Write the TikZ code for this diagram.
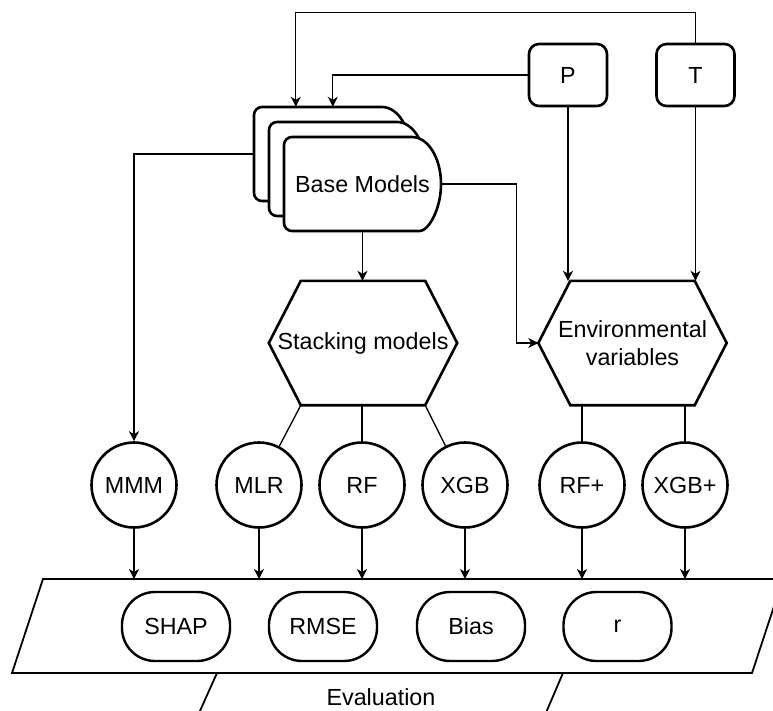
\documentclass[tikz,border=0pt]{standalone}
\usepackage{fontspec}
\setmainfont{Liberation Sans}
\usetikzlibrary{arrows.meta}

\begin{document}
\begin{tikzpicture}[
        x=1pt, y=-1pt,
        font=\fontsize{23.3}{28}\selectfont,
        var/.style={rectangle, rounded corners=10pt, draw, line width=2.6pt, minimum width=78pt, minimum height=62pt},
        hexnode/.style={minimum width=188pt, minimum height=124pt, inner sep=0pt, align=center},
        hexline/.style={line width=2.6pt, line join=miter},
        baseshape/.style={line width=2.6pt, fill=white},
        anchorbox/.style={minimum width=157pt, minimum height=94pt, inner sep=0pt},
        model/.style={circle, draw, line width=2.6pt, minimum size=85pt, inner sep=0pt},
        metric/.style={rectangle, rounded corners=33pt, draw, line width=2.4pt, minimum width=108pt, minimum height=69pt},
        evalline/.style={line width=1.8pt, line join=miter},
        link/.style={line width=1.3pt},
        arrow/.style={link, -{Stealth[length=10pt, width=10pt, inset=3pt]}}
    ]

    \useasboundingbox (0,0) rectangle (773,711);
    \clip (0,0) rectangle (773,711);

    % stacked base model shapes
    \foreach \d in {0,15,30}
        \filldraw[baseshape, shift={(\d,\d)}] (382,107) [rounded corners=8pt] -- (254,107) -- (254,201) -- (382,201)
            [sharp corners] .. controls (398,201) and (411,180) .. (411,154)
            .. controls (411,128) and (398,107) .. (382,107) -- cycle;
    \node[anchorbox] (bback) at (332.5,154) {};
    \node[anchorbox] (base) at (362.5,184) {Base Models};

    \node[var] (P) at (568,75) {P};
    \node[var] (T) at (695.5,75) {T};

    \node[hexnode] (stack) at (363,343) {Stacking models};
    \node[hexnode] (env) at (632.5,343) {Environmental\\variables};
    \foreach \h in {stack, env}
        \draw[hexline] ([xshift=32pt]\h.north west) -- ([xshift=-32pt]\h.north east) -- (\h.east)
            -- ([xshift=-32pt]\h.south east) -- ([xshift=32pt]\h.south west) -- (\h.west) -- cycle;

    \node[model] (mmm) at (134,485) {MMM};
    \node[model] (mlr) at (259,485) {MLR};
    \node[model] (rf) at (362,485) {RF};
    \node[model] (xgb) at (465,485) {XGB};
    \node[model] (rfp) at (582,485) {RF+};
    \node[model] (xgbp) at (685,485) {XGB+};

    % evaluation band
    \draw[evalline] (43,579) -- (783,579) -- (752,673) -- (12,673) -- cycle;
    \draw[evalline] (217,673) -- (195,722);
    \draw[evalline] (563,673) -- (542,722);
    \coordinate (evtop) at (0,579);
    \node[metric] (shap) at (176,626.5) {SHAP};
    \node[metric] (rmse) at (323,626.5) {RMSE};
    \node[metric] (bias) at (471,626.5) {Bias};
    \node[metric] (corr) at (617.5,626.5) {r};
    \node (evaltext) at (381,697) {Evaluation};

    % connectors
    \draw[arrow] (T.north) -- ++(0,-30) -| ([xshift=42pt]bback.north west);
    \draw[arrow] (P.west) -| ([xshift=79pt]bback.north west);
    \draw[arrow] (P.south) -- (P.south |- env.north);
    \draw[arrow] (T.south) -- (T.south |- env.north);
    \draw[arrow] (bback.west) -| (mmm.north);
    \draw[arrow] (base.south) -- (base.south |- stack.north);
    \draw[arrow] (base.east) -- ++(75,0) |- (env.west);

    \draw[link] ([xshift=32pt]stack.south west) -- (mlr);
    \draw[link] (rf.north |- stack.south) -- (rf);
    \draw[link] ([xshift=-32pt]stack.south east) -- (xgb);
    \draw[link] (rfp.north |- env.south) -- (rfp);
    \draw[link] (xgbp.north |- env.south) -- (xgbp);

    \foreach \m in {mmm, mlr, rf, xgb, rfp, xgbp}
        \draw[arrow] (\m.south) -- (\m.south |- evtop);

\end{tikzpicture}
\end{document}
